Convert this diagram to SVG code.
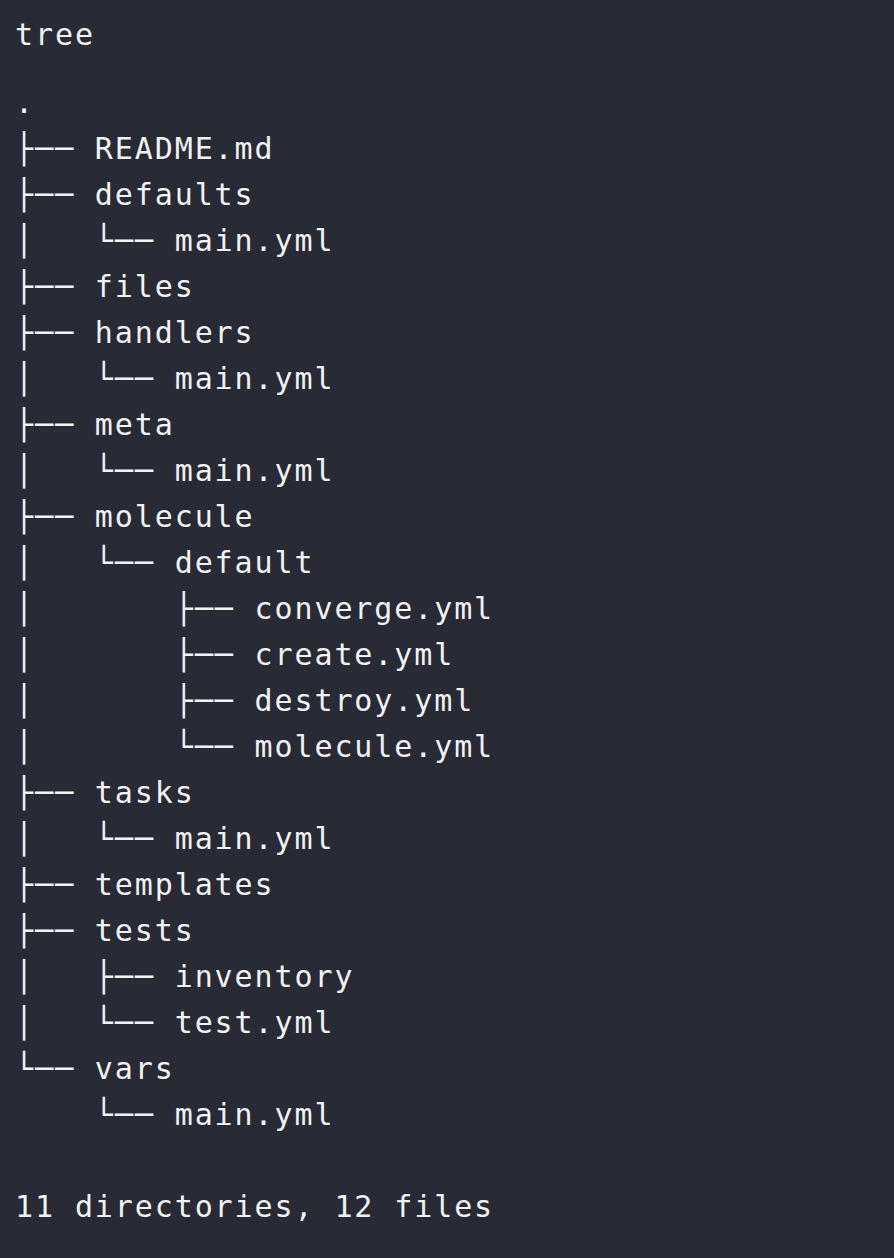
<svg xmlns="http://www.w3.org/2000/svg" width="894" height="1258" viewBox="0 0 894 1258">
<style>
text{font-family:"DejaVu Sans Mono","Liberation Mono",monospace;font-size:30px;letter-spacing:1.9px;fill:#f2f2f2;white-space:pre}
</style>
<rect width="894" height="1258" fill="#282a36"/>
<g id="tree" xml:space="preserve">
<text x="15" y="45">tree</text>
<text x="15" y="113">.</text>
<text x="15" y="159">├── README.md</text>
<text x="15" y="205">├── defaults</text>
<text x="15" y="251">│   └── main.yml</text>
<text x="15" y="297">├── files</text>
<text x="15" y="343">├── handlers</text>
<text x="15" y="389">│   └── main.yml</text>
<text x="15" y="435">├── meta</text>
<text x="15" y="481">│   └── main.yml</text>
<text x="15" y="527">├── molecule</text>
<text x="15" y="573">│   └── default</text>
<text x="15" y="619">│       ├── converge.yml</text>
<text x="15" y="665">│       ├── create.yml</text>
<text x="15" y="711">│       ├── destroy.yml</text>
<text x="15" y="757">│       └── molecule.yml</text>
<text x="15" y="803">├── tasks</text>
<text x="15" y="849">│   └── main.yml</text>
<text x="15" y="895">├── templates</text>
<text x="15" y="941">├── tests</text>
<text x="15" y="987">│   ├── inventory</text>
<text x="15" y="1033">│   └── test.yml</text>
<text x="15" y="1079">└── vars</text>
<text x="15" y="1125">    └── main.yml</text>
<text x="15" y="1217">11 directories, 12 files</text>
</g>
</svg>
